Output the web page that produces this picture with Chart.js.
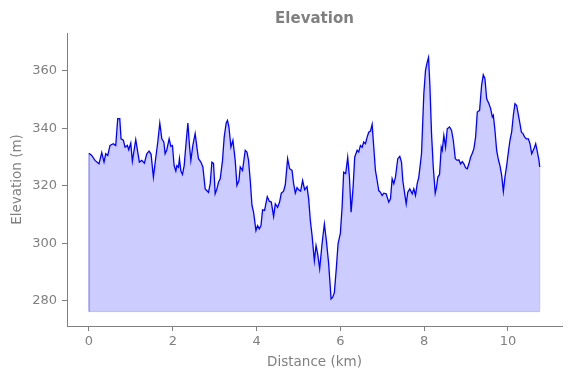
<!DOCTYPE html>
<html>
<head>
<meta charset="utf-8">
<script src="https://cdn.jsdelivr.net/npm/chart.js@4"></script>
<style>
    html, body { margin: 0; padding: 0; background: #fff; }
    #wrap { width: 571px; height: 378px; }
</style>
</head>
<body>
<div id="wrap"><canvas id="chart"></canvas></div>
<script>
const distanceKm = [
    0, 0.065, 0.143, 0.239, 0.304, 0.359, 0.399, 0.447, 0.502, 0.581, 0.638, 0.686, 0.734, 0.765, 0.82, 0.861,
    0.916, 0.949, 0.997, 1.035, 1.076, 1.116, 1.164, 1.202, 1.26, 1.322, 1.379, 1.434, 1.482, 1.537, 1.595, 1.642,
    1.69, 1.738, 1.786, 1.817, 1.858, 1.913, 1.954, 1.992, 2.032, 2.073, 2.097, 2.135, 2.159, 2.193, 2.231, 2.272,
    2.319, 2.36, 2.398, 2.431, 2.479, 2.534, 2.575, 2.613, 2.671, 2.718, 2.773, 2.852, 2.893, 2.933, 2.972, 3.012,
    3.053, 3.091, 3.132, 3.187, 3.227, 3.275, 3.306, 3.34, 3.388, 3.435, 3.49, 3.531, 3.579, 3.61, 3.665, 3.729,
    3.77, 3.808, 3.849, 3.89, 3.928, 3.985, 4.024, 4.064, 4.105, 4.143, 4.191, 4.255, 4.303, 4.351, 4.406, 4.447,
    4.502, 4.549, 4.59, 4.645, 4.686, 4.741, 4.788, 4.846, 4.884, 4.925, 4.966, 5.004, 5.051, 5.099, 5.147, 5.204,
    5.243, 5.283, 5.324, 5.379, 5.419, 5.458, 5.506, 5.563, 5.618, 5.666, 5.721, 5.778, 5.817, 5.857, 5.905, 5.945,
    6.0, 6.041, 6.079, 6.127, 6.175, 6.216, 6.256, 6.304, 6.342, 6.4, 6.438, 6.479, 6.519, 6.557, 6.598, 6.639,
    6.677, 6.718, 6.758, 6.797, 6.837, 6.878, 6.916, 6.957, 6.997, 7.036, 7.093, 7.155, 7.196, 7.236, 7.275, 7.315,
    7.37, 7.418, 7.459, 7.49, 7.531, 7.571, 7.609, 7.657, 7.715, 7.753, 7.793, 7.834, 7.872, 7.937, 7.992, 8.032,
    8.073, 8.104, 8.135, 8.176, 8.217, 8.264, 8.295, 8.327, 8.367, 8.408, 8.432, 8.47, 8.511, 8.551, 8.606, 8.654,
    8.695, 8.743, 8.79, 8.829, 8.869, 8.91, 8.948, 8.989, 9.029, 9.068, 9.108, 9.149, 9.187, 9.228, 9.268, 9.323,
    9.371, 9.411, 9.45, 9.491, 9.546, 9.587, 9.627, 9.651, 9.69, 9.73, 9.771, 9.809, 9.85, 9.89, 9.928, 9.969,
    10.01, 10.048, 10.088, 10.129, 10.167, 10.208, 10.249, 10.28, 10.321, 10.359, 10.399, 10.44, 10.488, 10.526, 10.567, 10.622,
    10.662, 10.703, 10.741, 10.758
];

const elevationM = [
    331.4, 330.6, 328.9, 327.7, 331.6, 328.3, 331.2, 330.6, 334.1, 334.7, 334.1, 343.4, 343.4, 336.4, 335.9, 333.5,
    334.1, 332.6, 334.9, 328.6, 332.4, 336.1, 331.8, 328.3, 328.9, 327.9, 331.2, 332.1, 331.0, 323.1, 330.0, 335.3,
    341.9, 336.4, 335.3, 331.2, 332.6, 336.4, 333.8, 334.1, 327.1, 325.2, 327.1, 326.5, 329.5, 325.2, 324.0, 327.1,
    335.3, 341.9, 334.1, 328.9, 334.1, 338.2, 333.5, 329.5, 328.3, 326.6, 319.0, 317.8, 320.8, 328.3, 327.9, 317.3,
    319.0, 321.3, 322.5, 328.9, 337.0, 341.9, 342.8, 340.5, 333.5, 335.9, 328.9, 320.2, 321.9, 326.6, 325.4, 332.4,
    331.8, 328.9, 321.9, 313.2, 310.9, 304.5, 306.2, 305.1, 306.2, 311.7, 311.5, 316.3, 314.7, 314.4, 309.4, 313.8,
    312.6, 314.4, 317.5, 318.2, 320.5, 329.5, 326.0, 325.4, 320.8, 317.5, 319.4, 318.7, 318.2, 321.9, 318.7, 319.8,
    315.5, 308.0, 302.8, 294.0, 299.3, 296.4, 291.2, 299.9, 306.8, 301.0, 292.9, 280.7, 281.3, 283.0, 291.7, 299.9,
    303.6, 312.6, 324.8, 324.3, 330.0, 323.1, 310.9, 319.6, 330.0, 332.4, 331.8, 334.1, 333.5, 335.3, 334.7, 337.0,
    338.7, 339.1, 341.4, 333.5, 325.4, 321.9, 318.4, 317.8, 316.7, 317.5, 317.3, 314.4, 315.5, 322.5, 320.8, 323.1,
    329.5, 330.3, 328.3, 321.9, 317.8, 313.8, 317.8, 319.0, 317.3, 319.0, 316.7, 320.8, 323.1, 331.2, 352.1, 360.2,
    363.1, 364.7, 355.6, 338.2, 326.6, 317.5, 319.6, 323.1, 324.0, 333.5, 332.4, 337.6, 333.5, 339.9, 340.5, 339.3,
    335.9, 329.5, 328.9, 329.1, 327.7, 328.5, 327.7, 326.3, 326.0, 327.7, 330.0, 331.4, 333.0, 337.0, 345.7, 346.3,
    355.0, 358.7, 357.4, 350.4, 348.6, 346.9, 344.0, 344.6, 339.3, 332.4, 329.2, 327.1, 323.7, 318.1, 323.1, 327.1,
    331.8, 335.9, 338.7, 344.6, 348.6, 348.0, 344.6, 342.2, 338.7, 338.2, 337.0, 336.4, 336.4, 334.7, 331.2, 333.0,
    334.7, 331.8, 328.9, 326.6
];

const fillBase = 276.3;
const xTicks = [0, 2, 4, 6, 8, 10];
const yTicks = [280, 300, 320, 340, 360];

const gray = '#808080';
const font = 'DejaVu Sans';

window.addEventListener('load', () => {
    buildElevationChart();
});

function buildElevationChart() {
    const ctx = document.getElementById('chart').getContext('2d');
    const last = distanceKm.length - 1;

    const profile = distanceKm.map((d, i) => ({ x: d, y: elevationM[i] }));
    // outline of the filled area (left, bottom and right edges)
    const outline = [
        { x: distanceKm[0], y: elevationM[0] },
        { x: distanceKm[0], y: fillBase },
        { x: distanceKm[last], y: fillBase },
        { x: distanceKm[last], y: elevationM[last] }
    ];

    new Chart(ctx, {
        type: 'line',
        data: {
            datasets: [{
                data: profile,
                borderColor: '#0000ff',
                borderWidth: 1.3,
                backgroundColor: 'rgba(0, 0, 255, 0.2)',
                fill: { value: fillBase },
                pointRadius: 0,
                tension: 0
            },
            {
                data: outline,
                borderColor: 'rgba(0, 0, 255, 0.2)',
                borderWidth: 1,
                fill: false,
                pointRadius: 0,
                tension: 0
            }]
        },
        options: {
            responsive: true,
            maintainAspectRatio: false,
            animation: false,
            layout: {
                padding: { left: 0, right: 9, top: 0, bottom: 0 }
            },
            plugins: {
                legend: { display: false },
                tooltip: { enabled: false },
                title: {
                    display: true,
                    text: 'Elevation',
                    fullSize: false,
                    color: gray,
                    font: { family: font, size: 15, weight: 'bold' },
                    padding: { top: 10, bottom: 5 }
                }
            },
            scales: {
                x: {
                    type: 'linear',
                    min: -0.525,
                    max: 11.29,
                    afterFit: s => { s.height = 52; },
                    afterBuildTicks: s => { s.ticks = xTicks.map(v => ({ value: v })); },
                    ticks: {
                        color: gray,
                        font: { family: font, size: 13 },
                        padding: 3,
                        maxRotation: 0,
                        includeBounds: false
                    },
                    grid: {
                        drawOnChartArea: false,
                        tickLength: 5,
                        color: gray
                    },
                    border: { color: gray, width: 1 },
                    title: {
                        display: true,
                        text: 'Distance (km)',
                        color: gray,
                        font: { family: font, size: 13.5 },
                        padding: { top: 0, bottom: 7 }
                    }
                },
                y: {
                    min: 271.3,
                    max: 373.2,
                    afterFit: s => { s.width = 67; },
                    afterBuildTicks: s => { s.ticks = yTicks.map(v => ({ value: v })); },
                    ticks: {
                        color: gray,
                        font: { family: font, size: 13 },
                        padding: 5,
                        includeBounds: false
                    },
                    grid: {
                        drawOnChartArea: false,
                        tickLength: 5,
                        color: gray
                    },
                    border: { color: gray, width: 1 },
                    title: {
                        display: true,
                        text: 'Elevation (m)',
                        color: gray,
                        font: { family: font, size: 13.5 },
                        padding: { top: 9, bottom: 0 }
                    }
                }
            }
        }
    });
}
</script>
</body>
</html>
